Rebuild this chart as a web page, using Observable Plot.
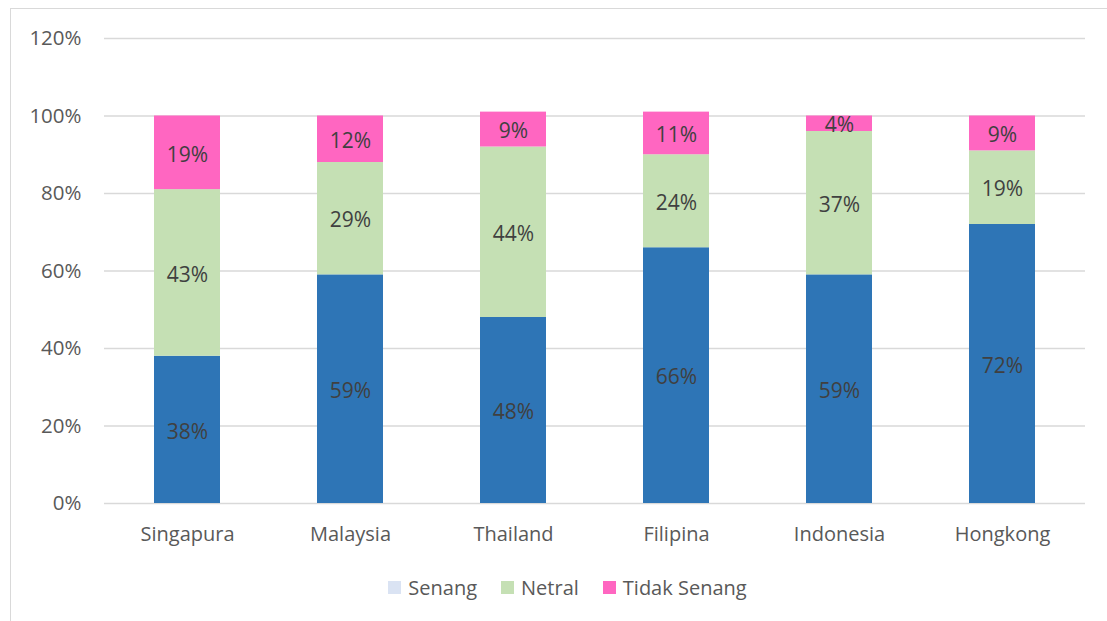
<!DOCTYPE html>
<html>
<head>
<meta charset="utf-8">
<script src="https://cdn.jsdelivr.net/npm/d3@7"></script>
<script src="https://cdn.jsdelivr.net/npm/@observablehq/plot@0.6"></script>
<style>
  html, body { margin: 0; padding: 0; background: #fff; }
  body { width: 1107px; height: 621px; position: relative; overflow: hidden; font-family: "Open Sans", sans-serif; }
  #frame { position: absolute; left: 10px; top: 8px; width: 1200px; height: 700px; border: 1.5px solid #d9d9d9; box-sizing: border-box; }
  #chart { position: absolute; left: 0; top: 0; }
  #legend { position: absolute; top: 574px; left: 14px; width: 1107px; display: flex; justify-content: center; gap: 0; font-size: 20px; color: #595959; }
  #legend .item { display: flex; align-items: center; margin: 0 12px; }
  #legend .sw { width: 13px; height: 13px; margin-right: 7px; display: inline-block; }
</style>
</head>
<body>
<div id="frame"></div>
<div id="chart"></div>
<div id="legend"></div>
<script>
const countries = ["Singapura", "Malaysia", "Thailand", "Filipina", "Indonesia", "Hongkong"];
const categories = ["Senang", "Netral", "Tidak Senang"];
const senang = [38, 59, 48, 66, 59, 72];
const netral = [43, 29, 44, 24, 37, 19];
const tidakSenang = [19, 12, 9, 11, 4, 9];
const barColors = ["#2E75B6", "#C5E0B4", "#FF66C1"];
const legendColors = ["#DAE3F3", "#C5E0B4", "#FF66C1"];
const yTicks = [0, 20, 40, 60, 80, 100, 120];

const series = [senang, netral, tidakSenang];
const data = [];
categories.forEach((cat, ci) => {
  countries.forEach((c, i) => data.push({country: c, category: cat, value: series[ci][i]}));
});

const chart = Plot.plot({
  width: 1107,
  height: 565,
  marginLeft: 104,
  marginRight: 22,
  marginTop: 38,
  marginBottom: 62,
  style: {fontFamily: "'Open Sans', sans-serif", fontSize: "20px", color: "#595959", background: "transparent"},
  x: {domain: countries, paddingInner: 0.596, paddingOuter: 0.298, label: null},
  y: {domain: [0, 120], label: null},
  color: {domain: categories, range: barColors},
  marks: [
    Plot.gridY(yTicks, {stroke: "#d9d9d9", strokeOpacity: 1, strokeWidth: 1.5}),
    Plot.axisY(yTicks, {tickSize: 0, tickPadding: 23, tickFormat: d => d + "%", fontSize: 20.5, fill: "#595959", label: null}),
    Plot.axisX({tickSize: 0, tickPadding: 23, fontSize: 20, fill: "#595959", label: null}),
    Plot.barY(data, {x: "country", y: "value", fill: "category", z: "category"}),
    Plot.text(data, Plot.stackY({x: "country", y: "value", z: "category", text: d => d.value + "%", fill: "#404040", fontSize: 21, dy: 2}))
  ]
});
document.getElementById("chart").appendChild(chart);

const legend = document.getElementById("legend");
categories.forEach((cat, i) => {
  const item = document.createElement("div");
  item.className = "item";
  const sw = document.createElement("span");
  sw.className = "sw";
  sw.style.background = legendColors[i];
  const t = document.createElement("span");
  t.textContent = cat;
  item.appendChild(sw);
  item.appendChild(t);
  legend.appendChild(item);
});
</script>
</body>
</html>
